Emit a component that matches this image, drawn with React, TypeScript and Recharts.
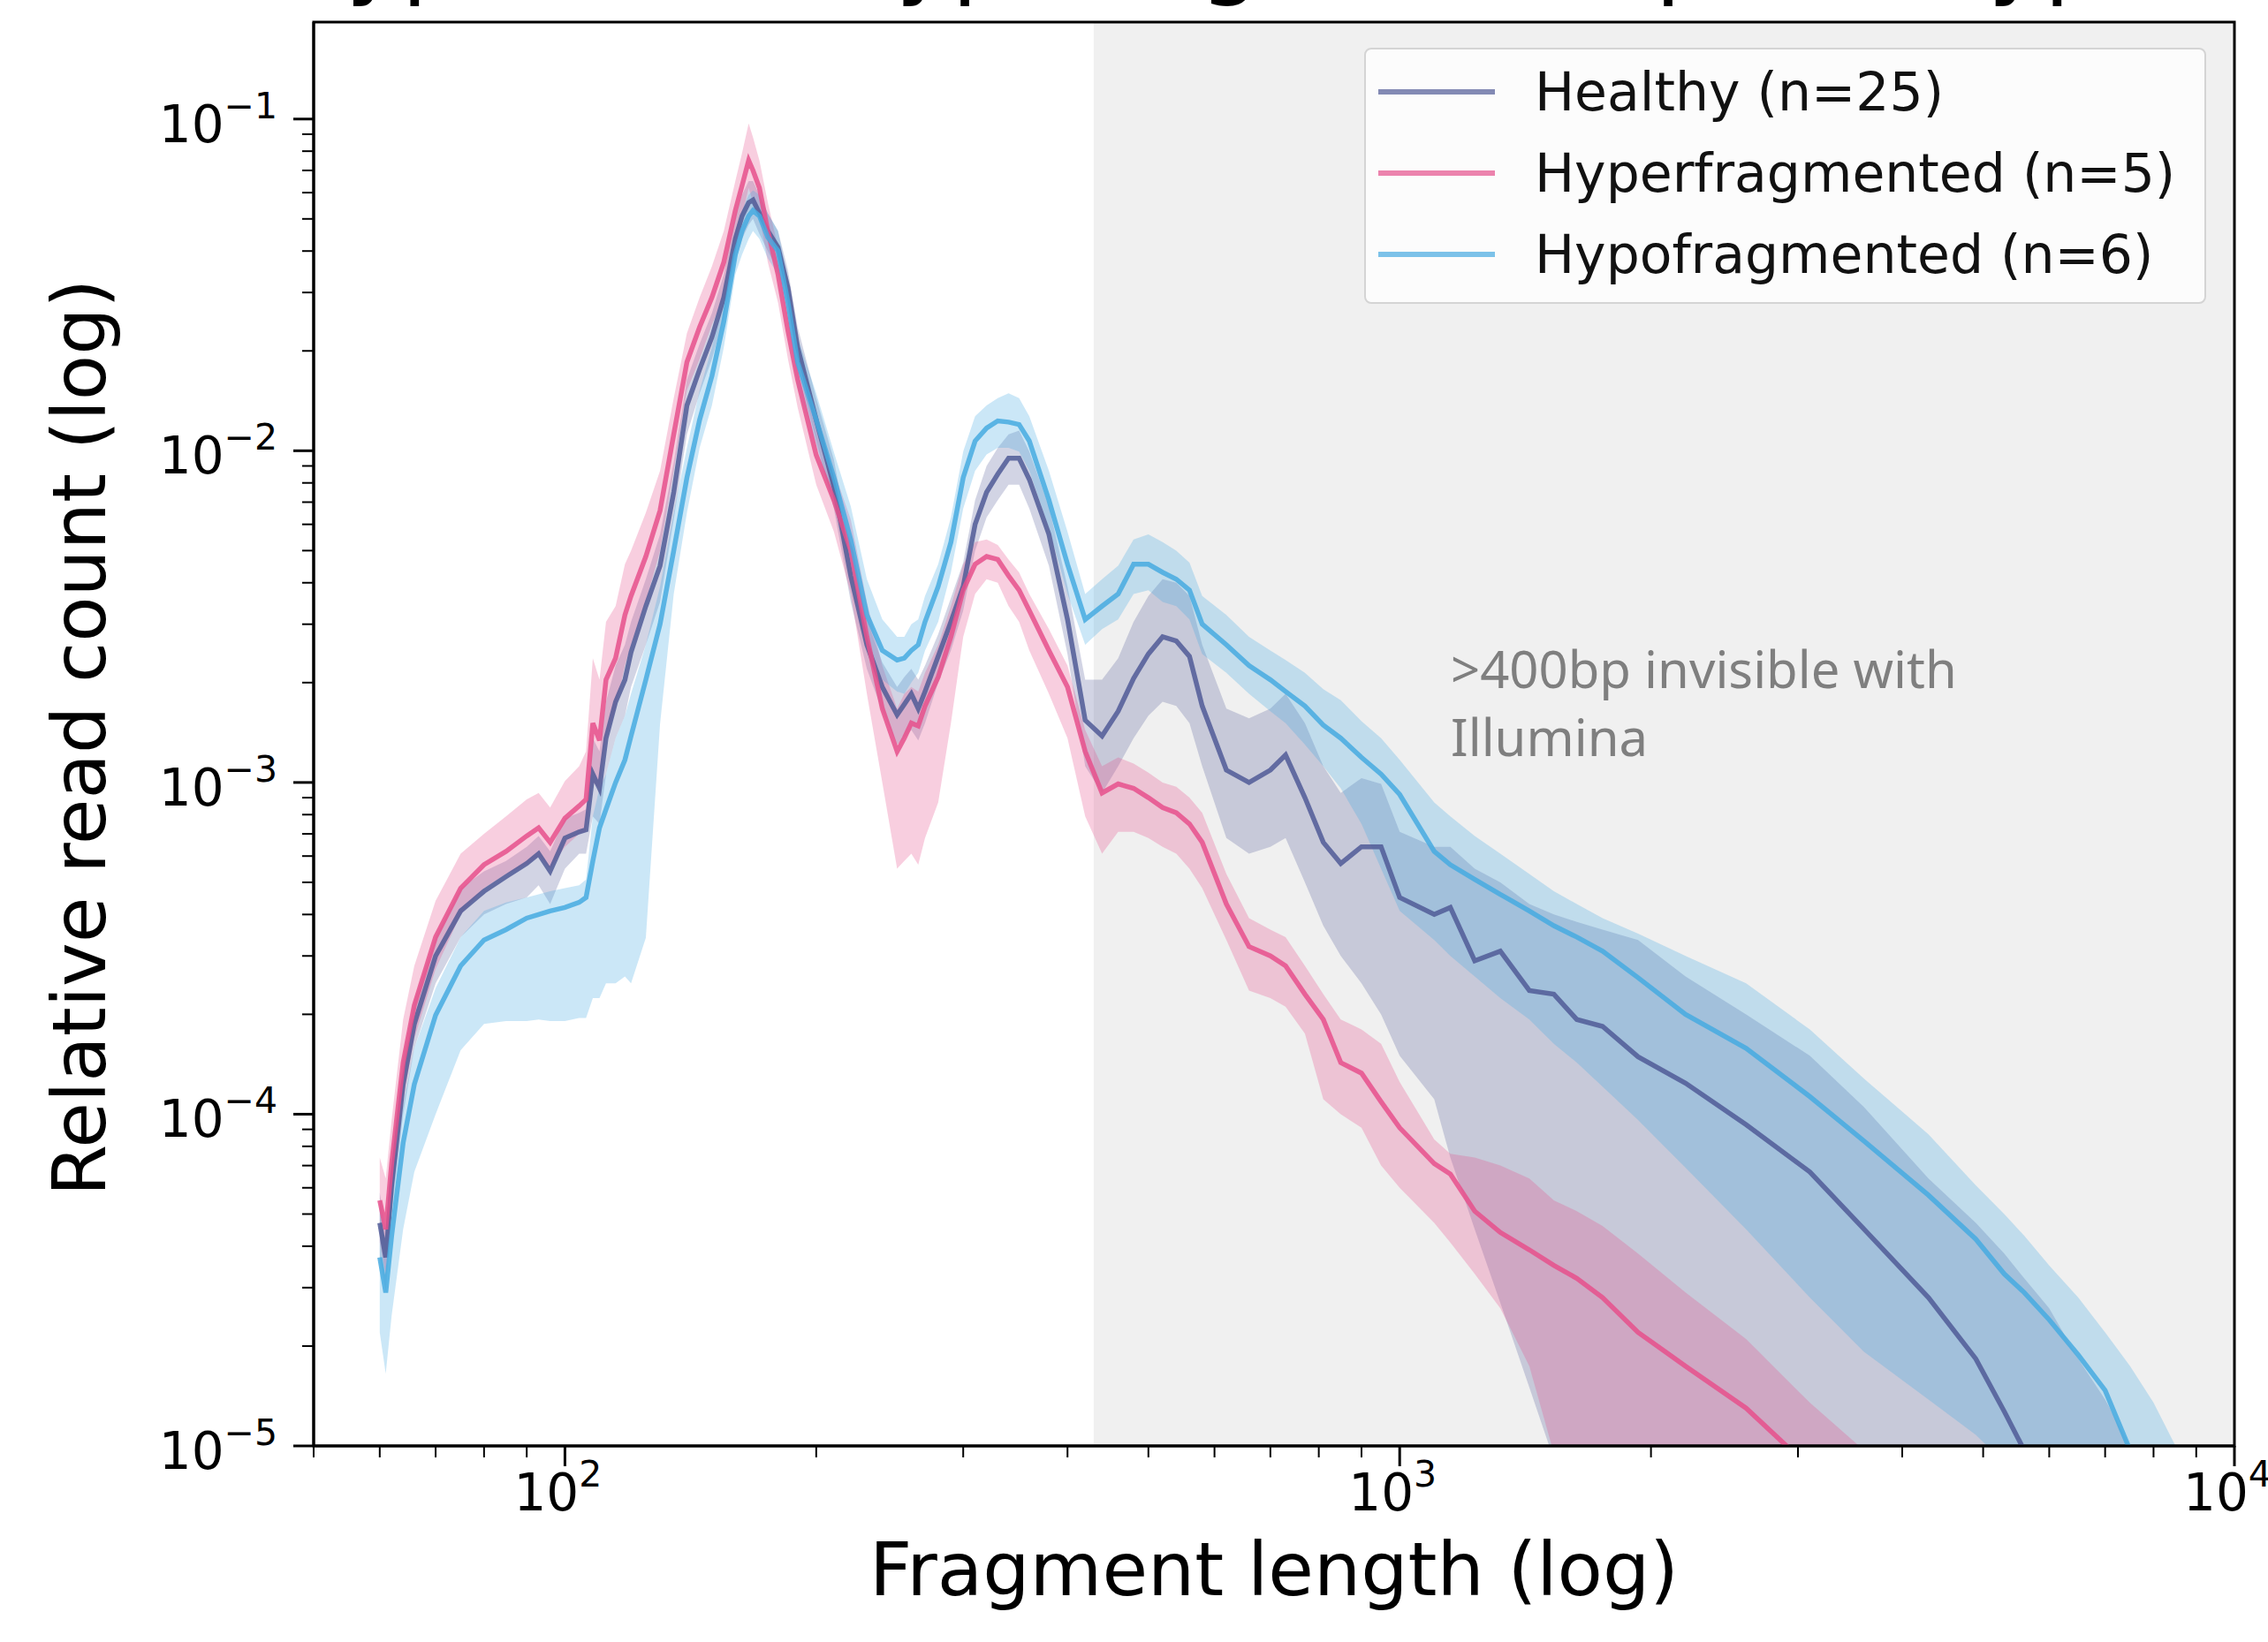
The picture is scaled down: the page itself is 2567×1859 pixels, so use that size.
import React from "react";
import { ComposedChart, Line, Area, XAxis, YAxis, ReferenceArea, Legend } from "recharts";

// fragment length grid (bp)
const fragmentLength = [
  60, 61, 62, 64, 66, 70, 75, 80, 85, 90, 93, 96, 100, 104, 106, 108, 110, 112, 115, 118,
  120, 125, 130, 135, 140, 145, 150, 155, 160, 163, 166, 168, 171, 175, 180, 185, 190, 200, 210, 220,
  230, 240, 250, 255, 260, 265, 270, 280, 290, 300, 310, 320, 330, 340, 350, 360, 380, 400, 420, 440,
  460, 480, 500, 520, 540, 560, 580, 620, 660, 700, 730, 770, 810, 850, 900, 950, 1000, 1100, 1150, 1230,
  1320, 1430, 1530, 1630, 1750, 1930, 2200, 2600, 3100, 3600, 4300, 4900, 5300, 5600, 6000, 6500, 7000, 7500, 8000, 8500,
  9000,
];

const healthyMean = [
  4.7e-5, 3.7e-5, 6.1e-5, 1.23e-4, 1.87e-4, 3.0e-4, 4.1e-4, 4.7e-4, 5.2e-4, 5.7e-4,
  6.1e-4, 5.4e-4, 6.8e-4, 7.1e-4, 7.2e-4, 1.06e-3, 9.6e-4, 1.36e-3, 1.75e-3, 2.04e-3,
  2.47e-3, 3.4e-3, 4.5e-3, 7.5e-3, 1.37e-2, 1.76e-2, 2.2e-2, 2.9e-2, 4.35e-2, 5.1e-2,
  5.6e-2, 5.7e-2, 5.2e-2, 4.6e-2, 4.1e-2, 3.1e-2, 2.05e-2, 1.24e-2, 7.8e-3, 4.2e-3,
  2.6e-3, 1.94e-3, 1.6e-3, 1.72e-3, 1.85e-3, 1.67e-3, 1.88e-3, 2.4e-3, 3.05e-3, 3.9e-3,
  6.0e-3, 7.5e-3, 8.5e-3, 9.5e-3, 9.5e-3, 8.2e-3, 5.6e-3, 3.1e-3, 1.54e-3, 1.38e-3,
  1.64e-3, 2.06e-3, 2.44e-3, 2.75e-3, 2.67e-3, 2.4e-3, 1.7e-3, 1.09e-3, 1.0e-3, 1.09e-3,
  1.21e-3, 9.0e-4, 6.6e-4, 5.7e-4, 6.4e-4, 6.4e-4, 4.5e-4, 4.0e-4, 4.2e-4, 2.9e-4,
  3.1e-4, 2.36e-4, 2.3e-4, 1.93e-4, 1.84e-4, 1.49e-4, 1.24e-4, 9.3e-5, 6.7e-5, 4.5e-5,
  2.8e-5, 1.83e-5, 1.27e-5, 9.7e-6, 6.7e-6, null, null, null, null, null,
  null,
];
const healthyLow = [
  3.7e-5, 2.9e-5, 5.0e-5, 1.0e-4, 1.58e-4, 2.48e-4, 3.42e-4, 4.0e-4, 4.3e-4, 4.5e-4,
  4.9e-4, 4.3e-4, 5.5e-4, 6.1e-4, 6.1e-4, 7.9e-4, 7.5e-4, 1.06e-3, 1.36e-3, 1.59e-3,
  1.94e-3, 2.6e-3, 3.5e-3, 6.2e-3, 1.12e-2, 1.49e-2, 1.89e-2, 2.5e-2, 3.7e-2, 4.35e-2,
  4.8e-2, 5.0e-2, 4.5e-2, 4.0e-2, 3.5e-2, 2.7e-2, 1.78e-2, 1.07e-2, 6.7e-3, 3.5e-3,
  2.2e-3, 1.64e-3, 1.3e-3, 1.36e-3, 1.44e-3, 1.34e-3, 1.51e-3, 2.0e-3, 2.5e-3, 3.3e-3,
  5.0e-3, 6.3e-3, 7.1e-3, 7.9e-3, 7.9e-3, 6.7e-3, 4.5e-3, 2.44e-3, 1.12e-3, 9.3e-4,
  1.12e-3, 1.36e-3, 1.59e-3, 1.75e-3, 1.7e-3, 1.51e-3, 1.12e-3, 6.8e-4, 6.1e-4, 6.4e-4,
  6.8e-4, 5.0e-4, 3.7e-4, 3.0e-4, 2.48e-4, 2.0e-4, 1.5e-4, 1.11e-4, 7.4e-5, 4.5e-5,
  2.7e-5, 1.5e-5, 9.1e-6, 5.5e-6, 5.5e-6, 5.5e-6, 5.5e-6, 5.5e-6, 5.5e-6, 5.5e-6,
  5.5e-6, 5.5e-6, 5.5e-6, 5.5e-6, 5.5e-6, 5.5e-6, 5.5e-6, 5.5e-6, 5.5e-6, null,
  null,
];
const healthyHigh = [
  5.8e-5, 4.5e-5, 7.4e-5, 1.5e-4, 2.2e-4, 3.42e-4, 4.8e-4, 5.4e-4, 5.8e-4, 6.4e-4,
  6.9e-4, 6.2e-4, 7.8e-4, 8.1e-4, 8.3e-4, 1.36e-3, 1.24e-3, 1.75e-3, 2.25e-3, 2.6e-3,
  3.05e-3, 4.1e-3, 5.6e-3, 9.2e-3, 1.64e-2, 2.1e-2, 2.6e-2, 3.4e-2, 5.1e-2, 5.9e-2,
  6.5e-2, 6.5e-2, 5.9e-2, 5.2e-2, 4.6e-2, 3.5e-2, 2.36e-2, 1.44e-2, 9.4e-3, 5.0e-3,
  3.1e-3, 2.3e-3, 1.94e-3, 2.08e-3, 2.2e-3, 2.04e-3, 2.25e-3, 2.8e-3, 3.6e-3, 4.6e-3,
  7.1e-3, 9.0e-3, 1.02e-2, 1.12e-2, 1.15e-2, 9.95e-3, 6.8e-3, 3.9e-3, 2.04e-3, 2.04e-3,
  2.37e-3, 3.05e-3, 3.65e-3, 4.1e-3, 4.0e-3, 3.65e-3, 2.6e-3, 1.67e-3, 1.56e-3, 1.67e-3,
  1.85e-3, 1.51e-3, 1.12e-3, 9.3e-4, 1.03e-3, 9.9e-4, 7.1e-4, 6.4e-4, 6.4e-4, 5.5e-4,
  5.0e-4, 4.3e-4, 4.0e-4, 3.8e-4, 3.6e-4, 3.35e-4, 2.6e-4, 2.0e-4, 1.5e-4, 1.05e-4,
  6.4e-5, 4.7e-5, 3.8e-5, 3.2e-5, 2.6e-5, 1.83e-5, 1.38e-5, 1.0e-5, 7.4e-6, null,
  null,
];

const hyperMean = [
  5.5e-5, 4.5e-5, 7.1e-5, 1.43e-4, 2.13e-4, 3.42e-4, 4.8e-4, 5.65e-4, 6.2e-4, 6.9e-4,
  7.3e-4, 6.6e-4, 7.8e-4, 8.5e-4, 8.9e-4, 1.51e-3, 1.34e-3, 2.04e-3, 2.37e-3, 3.2e-3,
  3.65e-3, 4.8e-3, 6.6e-3, 1.12e-2, 1.85e-2, 2.36e-2, 2.9e-2, 3.7e-2, 5.3e-2, 6.3e-2,
  7.5e-2, 7.0e-2, 6.2e-2, 4.6e-2, 3.4e-2, 2.3e-2, 1.64e-2, 9.7e-3, 7.1e-3, 5.0e-3,
  2.75e-3, 1.67e-3, 1.24e-3, 1.36e-3, 1.51e-3, 1.48e-3, 1.7e-3, 2.08e-3, 2.75e-3, 3.8e-3,
  4.55e-3, 4.8e-3, 4.7e-3, 4.2e-3, 3.8e-3, 3.3e-3, 2.5e-3, 1.94e-3, 1.24e-3, 9.3e-4,
  9.9e-4, 9.6e-4, 9.0e-4, 8.4e-4, 8.1e-4, 7.5e-4, 6.6e-4, 4.3e-4, 3.2e-4, 3.0e-4,
  2.8e-4, 2.3e-4, 1.93e-4, 1.43e-4, 1.33e-4, 1.09e-4, 9.1e-5, 7.1e-5, 6.6e-5, 5.1e-5,
  4.4e-5, 3.9e-5, 3.5e-5, 3.2e-5, 2.8e-5, 2.2e-5, 1.74e-5, 1.3e-5, 8.6e-6, null,
  null, null, null, null, null, null, null, null, null, null,
  null,
];
const hyperLow = [
  4.1e-5, 3.3e-5, 5.2e-5, 1.11e-4, 1.69e-4, 2.74e-4, 4.0e-4, 4.8e-4, 5.3e-4, 5.65e-4,
  6.0e-4, 5.5e-4, 6.4e-4, 7.0e-4, 7.1e-4, 1.0e-3, 9.6e-4, 1.36e-3, 1.67e-3, 2.25e-3,
  2.6e-3, 3.5e-3, 5.0e-3, 8.7e-3, 1.52e-2, 1.89e-2, 2.4e-2, 2.9e-2, 4.35e-2, 5.1e-2,
  6.2e-2, 5.6e-2, 5.1e-2, 3.7e-2, 2.8e-2, 1.89e-2, 1.35e-2, 7.9e-3, 5.7e-3, 3.7e-3,
  1.85e-3, 1.0e-3, 5.5e-4, 5.8e-4, 6.1e-4, 5.65e-4, 6.8e-4, 8.7e-4, 1.51e-3, 2.75e-3,
  3.7e-3, 4.1e-3, 4.0e-3, 3.4e-3, 3.05e-3, 2.5e-3, 1.85e-3, 1.36e-3, 7.9e-4, 6.1e-4,
  7.1e-4, 7.1e-4, 6.8e-4, 6.4e-4, 6.1e-4, 5.5e-4, 4.8e-4, 3.35e-4, 2.36e-4, 2.24e-4,
  2.11e-4, 1.75e-4, 1.11e-4, 1.0e-4, 9.1e-5, 7.0e-5, 6.0e-5, 4.7e-5, 4.1e-5, 3.3e-5,
  2.6e-5, 1.74e-5, 9.5e-6, 5.5e-6, 5.5e-6, 5.5e-6, 5.5e-6, 5.5e-6, 5.5e-6, 5.5e-6,
  null, null, null, null, null, null, null, null, null, null,
  null,
];
const hyperHigh = [
  7.4e-5, 6.4e-5, 9.6e-5, 1.93e-4, 2.8e-4, 4.4e-4, 6.1e-4, 7.0e-4, 7.9e-4, 8.9e-4,
  9.3e-4, 8.4e-4, 1.01e-3, 1.12e-3, 1.24e-3, 2.37e-3, 2.04e-3, 3.05e-3, 3.4e-3, 4.55e-3,
  5.0e-3, 6.5e-3, 8.7e-3, 1.44e-2, 2.26e-2, 2.9e-2, 3.6e-2, 4.6e-2, 6.5e-2, 7.9e-2,
  9.7e-2, 8.8e-2, 7.5e-2, 5.6e-2, 4.1e-2, 2.8e-2, 2.0e-2, 1.18e-2, 8.7e-3, 6.2e-3,
  3.5e-3, 2.25e-3, 1.67e-3, 1.85e-3, 1.94e-3, 1.88e-3, 2.14e-3, 2.6e-3, 3.4e-3, 4.55e-3,
  5.3e-3, 5.4e-3, 5.2e-3, 4.7e-3, 4.3e-3, 3.7e-3, 2.9e-3, 2.25e-3, 1.44e-3, 1.12e-3,
  1.19e-3, 1.14e-3, 1.07e-3, 1.0e-3, 9.7e-4, 9.0e-4, 8.1e-4, 5.3e-4, 3.9e-4, 3.6e-4,
  3.42e-4, 2.8e-4, 2.3e-4, 1.93e-4, 1.8e-4, 1.63e-4, 1.25e-4, 8.4e-5, 7.6e-5, 7.4e-5,
  7.0e-5, 6.4e-5, 5.5e-5, 5.1e-5, 4.6e-5, 3.8e-5, 2.9e-5, 2.1e-5, 1.35e-5, 9.7e-6,
  null, null, null, null, null, null, null, null, null, null,
  null,
];

const hypoMean = [
  3.7e-5, 2.9e-5, 4.3e-5, 8.2e-5, 1.23e-4, 1.99e-4, 2.8e-4, 3.35e-4, 3.6e-4, 3.9e-4,
  4.0e-4, 4.1e-4, 4.2e-4, 4.35e-4, 4.5e-4, 5.8e-4, 7.3e-4, 8.3e-4, 1.0e-3, 1.17e-3,
  1.38e-3, 2.04e-3, 3.0e-3, 5.0e-3, 8.3e-3, 1.24e-2, 1.68e-2, 2.45e-2, 3.9e-2, 4.6e-2,
  5.1e-2, 5.3e-2, 5.1e-2, 4.4e-2, 4.0e-2, 2.8e-2, 1.85e-2, 1.24e-2, 8.3e-3, 5.4e-3,
  3.2e-3, 2.5e-3, 2.34e-3, 2.37e-3, 2.5e-3, 2.6e-3, 3.05e-3, 3.9e-3, 5.3e-3, 8.3e-3,
  1.07e-2, 1.17e-2, 1.23e-2, 1.22e-2, 1.2e-2, 1.07e-2, 7.1e-3, 4.55e-3, 3.1e-3, 3.4e-3,
  3.7e-3, 4.55e-3, 4.55e-3, 4.3e-3, 4.1e-3, 3.8e-3, 3.0e-3, 2.6e-3, 2.25e-3, 2.04e-3,
  1.88e-3, 1.7e-3, 1.49e-3, 1.36e-3, 1.19e-3, 1.06e-3, 9.2e-4, 6.2e-4, 5.65e-4, 5.1e-4,
  4.6e-4, 4.1e-4, 3.7e-4, 3.42e-4, 3.1e-4, 2.58e-4, 2.0e-4, 1.58e-4, 1.13e-4, 8.3e-5,
  5.7e-5, 4.2e-5, 3.3e-5, 2.9e-5, 2.4e-5, 1.88e-5, 1.47e-5, 9.7e-6, 6.7e-6, null,
  null,
];
const hypoLow = [
  2.2e-5, 1.65e-5, 2.47e-5, 4.5e-5, 6.7e-5, 1.0e-4, 1.56e-4, 1.87e-4, 1.91e-4, 1.91e-4,
  1.93e-4, 1.91e-4, 1.91e-4, 1.95e-4, 1.95e-4, 2.24e-4, 2.24e-4, 2.48e-4, 2.48e-4, 2.6e-4,
  2.48e-4, 3.4e-4, 1.5e-3, 3.7e-3, 6.5e-3, 1.02e-2, 1.37e-2, 2.05e-2, 3.4e-2, 3.9e-2,
  4.35e-2, 4.6e-2, 4.35e-2, 3.8e-2, 3.4e-2, 2.45e-2, 1.55e-2, 1.04e-2, 6.8e-3, 4.5e-3,
  2.6e-3, 2.04e-3, 1.88e-3, 1.85e-3, 2.0e-3, 2.14e-3, 2.5e-3, 3.05e-3, 4.3e-3, 6.7e-3,
  8.7e-3, 9.75e-3, 1.02e-2, 1.02e-2, 9.95e-3, 8.7e-3, 5.85e-3, 3.7e-3, 2.6e-3, 2.9e-3,
  3.1e-3, 3.7e-3, 3.8e-3, 3.5e-3, 3.4e-3, 3.1e-3, 2.44e-3, 2.14e-3, 1.85e-3, 1.64e-3,
  1.51e-3, 1.3e-3, 1.12e-3, 9.6e-4, 7.5e-4, 5.5e-4, 4.1e-4, 3.35e-4, 3.0e-4, 2.6e-4,
  2.24e-4, 1.93e-4, 1.63e-4, 1.43e-4, 1.21e-4, 9.6e-5, 6.9e-5, 4.5e-5, 2.8e-5, 1.92e-5,
  1.38e-5, 1.08e-5, 8.9e-6, 5.5e-6, 5.5e-6, 5.5e-6, 5.5e-6, 5.5e-6, 5.5e-6, 5.5e-6,
  5.5e-6,
];
const hypoHigh = [
  5.2e-5, 4.1e-5, 6.1e-5, 1.06e-4, 1.58e-4, 2.4e-4, 3.42e-4, 4.1e-4, 4.35e-4, 4.5e-4,
  4.6e-4, 4.7e-4, 4.8e-4, 4.9e-4, 5.1e-4, 7.9e-4, 9.6e-4, 1.06e-3, 1.36e-3, 1.59e-3,
  1.85e-3, 2.6e-3, 3.9e-3, 6.5e-3, 1.02e-2, 1.52e-2, 2.05e-2, 2.9e-2, 4.6e-2, 5.3e-2,
  5.9e-2, 6.1e-2, 5.9e-2, 5.2e-2, 4.6e-2, 3.3e-2, 2.2e-2, 1.49e-2, 9.9e-3, 6.8e-3,
  4.1e-3, 3.1e-3, 2.75e-3, 2.75e-3, 3.0e-3, 3.1e-3, 3.65e-3, 4.55e-3, 6.3e-3, 9.95e-3,
  1.27e-2, 1.37e-2, 1.44e-2, 1.49e-2, 1.44e-2, 1.27e-2, 8.7e-3, 5.7e-3, 3.7e-3, 4.1e-3,
  4.5e-3, 5.4e-3, 5.6e-3, 5.3e-3, 5.0e-3, 4.6e-3, 3.65e-3, 3.2e-3, 2.75e-3, 2.5e-3,
  2.34e-3, 2.14e-3, 1.91e-3, 1.77e-3, 1.53e-3, 1.36e-3, 1.17e-3, 8.7e-4, 7.9e-4, 6.9e-4,
  6.1e-4, 5.3e-4, 4.7e-4, 4.3e-4, 3.9e-4, 3.5e-4, 3.0e-4, 2.48e-4, 1.8e-4, 1.28e-4,
  8.7e-5, 6.1e-5, 5.0e-5, 4.3e-5, 3.5e-5, 2.8e-5, 2.2e-5, 1.74e-5, 1.35e-5, 1.0e-5,
  7.4e-6,
];

const xTicks = [
  50, 60, 70, 80, 90, 100, 200, 300, 400, 500, 600, 700, 800, 900,
  1000, 2000, 3000, 4000, 5000, 6000, 7000, 8000, 9000, 10000,
];
const yTicks = [
  1e-5, 2e-5, 3e-5, 4e-5, 5e-5, 6e-5, 7e-5, 8e-5, 9e-5,
  1e-4, 2e-4, 3e-4, 4e-4, 5e-4, 6e-4, 7e-4, 8e-4, 9e-4,
  1e-3, 2e-3, 3e-3, 4e-3, 5e-3, 6e-3, 7e-3, 8e-3, 9e-3,
  1e-2, 2e-2, 3e-2, 4e-2, 5e-2, 6e-2, 7e-2, 8e-2, 9e-2,
  1e-1,
];

const illuminaLimit = 430;

const HEALTHY = "#505a96";
const HYPER = "#e6508c";
const HYPO = "#46aae1";
const FONT = "DejaVu Sans";

const band = (lo: number | null, hi: number | null) => (lo == null || hi == null ? null : [lo, hi]);

const data = fragmentLength.map((x, i) => ({
  x,
  healthy: healthyMean[i],
  healthyBand: band(healthyLow[i], healthyHigh[i]),
  hyper: hyperMean[i],
  hyperBand: band(hyperLow[i], hyperHigh[i]),
  hypo: hypoMean[i],
  hypoBand: band(hypoLow[i], hypoHigh[i]),
}));

const isDecade = (v: number) => Math.abs(Math.log10(v) - Math.round(Math.log10(v))) < 1e-6;

function XTick({ x, y, payload }: any) {
  const v = payload.value;
  const major = isDecade(v);
  return (
    <g>
      <line x1={x} x2={x} y1={y} y2={y + (major ? 23 : 13)} stroke="#000" strokeWidth={major ? 3 : 2} />
      {major && (
        <text x={x - 8} y={y + 73} textAnchor="middle" fontFamily={FONT} fontSize={58} fill="#000">
          10
          <tspan fontSize={41} dy={-27}>{Math.round(Math.log10(v))}</tspan>
        </text>
      )}
    </g>
  );
}

function YTick({ x, y, payload }: any) {
  const v = payload.value;
  const major = isDecade(v);
  return (
    <g>
      <line x1={x - (major ? 23 : 13)} x2={x} y1={y} y2={y} stroke="#000" strokeWidth={major ? 3 : 2} />
      {major && (
        <text x={x - 41} y={y + 26} textAnchor="end" fontFamily={FONT} fontSize={58} fill="#000">
          10
          <tspan fontSize={41} dy={-27}>{`\u2212${-Math.round(Math.log10(v))}`}</tspan>
        </text>
      )}
    </g>
  );
}

function LegendBox({ payload }: any) {
  const items = (payload || []).filter((p: any) => p.type !== "none");
  return (
    <div
      style={{
        boxSizing: "border-box",
        width: 953,
        height: 290,
        paddingTop: 2,
        background: "rgba(255,255,255,0.8)",
        border: "2px solid #d4d4d4",
        borderRadius: 8,
      }}
    >
      {items.map((item: any) => (
        <div key={item.value} style={{ height: 92, display: "flex", alignItems: "center" }}>
          <div style={{ marginLeft: 14, width: 132, height: 6, background: item.color, opacity: 0.7 }} />
          <span style={{ marginLeft: 45, fontFamily: FONT, fontSize: 60, lineHeight: 1, color: "#111" }}>
            {item.value}
          </span>
        </div>
      ))}
    </div>
  );
}

export default function App() {
  return (
    <div style={{ position: "absolute", left: 0, top: 0, width: 2567, height: 1859, background: "#fff", overflow: "hidden" }}>
      <ComposedChart width={2567} height={1859} data={data} margin={{ top: 25, right: 38, bottom: 72, left: 155 }}>
        <ReferenceArea x1={illuminaLimit} x2={10000} fill="#f0f0f0" fillOpacity={1} stroke="none" />
        <XAxis
          dataKey="x"
          type="number"
          scale="log"
          domain={[50, 10000]}
          allowDataOverflow
          ticks={xTicks}
          interval={0}
          tick={<XTick />}
          tickSize={0}
          tickMargin={0}
          tickLine={false}
          height={150}
          axisLine={{ stroke: "#000", strokeWidth: 3 }}
        />
        <YAxis
          type="number"
          scale="log"
          domain={[1e-5, 0.196]}
          allowDataOverflow
          ticks={yTicks}
          interval={0}
          tick={<YTick />}
          tickSize={0}
          tickMargin={0}
          tickLine={false}
          width={200}
          axisLine={{ stroke: "#000", strokeWidth: 3 }}
        />
        <Area dataKey="healthyBand" type="linear" fill={HEALTHY} fillOpacity={0.26} stroke="none" legendType="none" isAnimationActive={false} />
        <Line dataKey="healthy" name="Healthy (n=25)" type="linear" stroke={HEALTHY} strokeOpacity={0.85} strokeWidth={5.5} dot={false} activeDot={false} isAnimationActive={false} />
        <Area dataKey="hyperBand" type="linear" fill={HYPER} fillOpacity={0.28} stroke="none" legendType="none" isAnimationActive={false} />
        <Line dataKey="hyper" name="Hyperfragmented (n=5)" type="linear" stroke={HYPER} strokeOpacity={0.85} strokeWidth={5.5} dot={false} activeDot={false} isAnimationActive={false} />
        <Area dataKey="hypoBand" type="linear" fill={HYPO} fillOpacity={0.28} stroke="none" legendType="none" isAnimationActive={false} />
        <Line dataKey="hypo" name="Hypofragmented (n=6)" type="linear" stroke={HYPO} strokeOpacity={0.85} strokeWidth={5.5} dot={false} activeDot={false} isAnimationActive={false} />
        <ReferenceArea x1={50} x2={10000} fill="none" stroke="#000" strokeWidth={3} />
        <Legend
          layout="vertical"
          align="center"
          verticalAlign="middle"
          content={<LegendBox />}
          wrapperStyle={{ position: "absolute", left: 1544, top: 54, width: 953, height: 290 }}
        />
      </ComposedChart>
      <svg width={2567} height={1859} style={{ position: "absolute", left: 0, top: 0, pointerEvents: "none" }}>
        <text x={311} y={-15} fontFamily={FONT} fontSize={107} fill="#000">
          Hyper- and Hypofragmented phenotypes
        </text>
        <text transform="translate(119, 835) rotate(-90)" textAnchor="middle" fontFamily={FONT} fontSize={84} fill="#000">
          Relative read count (log)
        </text>
        <text x={1442} y={1806} textAnchor="middle" fontFamily={FONT} fontSize={84} fill="#000">
          Fragment length (log)
        </text>
        <text fontFamily="Noto Sans" fontSize={58} fill="#7f7f7f">
          <tspan x={1642} y={779}>&gt;400bp invisible with</tspan>
          <tspan x={1642} y={856}>Illumina</tspan>
        </text>
      </svg>
    </div>
  );
}
